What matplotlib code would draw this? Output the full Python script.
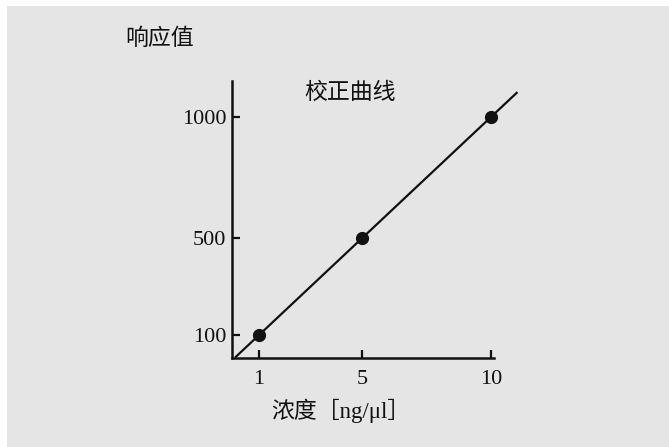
import matplotlib
matplotlib.use("Agg")
import matplotlib.pyplot as plt

# Calibration standards: concentration [ng/μl] and detector response
conc = [1, 5, 10]
response = [100, 500, 1000]
x_ticks = [1, 5, 10]
y_ticks = [100, 500, 1000]
x_tick_labels = ["1", "5", "10"]
y_tick_labels = ["100", "500", "1000"]

# Fitted calibration line endpoints (response = 100 × concentration)
fit_x = [0.1, 11.0]
fit_y = [10, 1100]

title_text = "校正曲线"
xlabel_text = "浓度［ng/μl］"
ylabel_text = "响应值"

FONTS = ["Liberation Serif", "Noto Sans CJK SC", "DejaVu Sans"]
plt.rcParams["font.family"] = FONTS

W, H = 669, 447
fig = plt.figure(figsize=(W / 100, H / 100), dpi=100)
fig.patch.set_facecolor("white")

# gray panel behind the chart
bg = fig.add_axes([7 / W, 0, 1 - 7 / W, 1 - 6 / H], zorder=-10)
bg.set_facecolor("#e5e5e5")
bg.set_xticks([])
bg.set_yticks([])
for s in bg.spines.values():
    s.set_visible(False)

ax = fig.add_axes([232 / W, 1 - 358 / H, (494 - 232) / W, (358 - 81) / H])
ax.set_facecolor("none")

ink = "#111111"
ax.plot(fit_x, fit_y, color=ink, lw=1.6, clip_on=False, zorder=3)
ax.plot(conc, response, "o", color=ink, ms=8.5, clip_on=False, zorder=4)

ax.set_xlim(-0.05, 10.12)
ax.set_ylim(5, 1149)

for s in ("top", "right"):
    ax.spines[s].set_visible(False)
for s in ("left", "bottom"):
    ax.spines[s].set_linewidth(1.8)
    ax.spines[s].set_color(ink)

ax.set_xticks(x_ticks)
ax.set_xticklabels(x_tick_labels)
ax.set_yticks(y_ticks)
ax.set_yticklabels(y_tick_labels)
ax.tick_params(axis="both", direction="in", length=6, width=1.6, color=ink,
               labelsize=16, labelcolor=ink)
ax.tick_params(axis="x", pad=9)
ax.tick_params(axis="y", pad=4)

fig.text(350 / W, 1 - 93 / H, title_text, ha="center", va="center",
         fontsize=16.5, color=ink)
fig.text(160 / W, 1 - 39 / H, ylabel_text, ha="center", va="center",
         fontsize=16.5, color=ink)
fig.text(341 / W, 1 - 411 / H, xlabel_text, ha="center", va="center",
         fontsize=16.5, color=ink)

fig.savefig("out.png", dpi=100)
